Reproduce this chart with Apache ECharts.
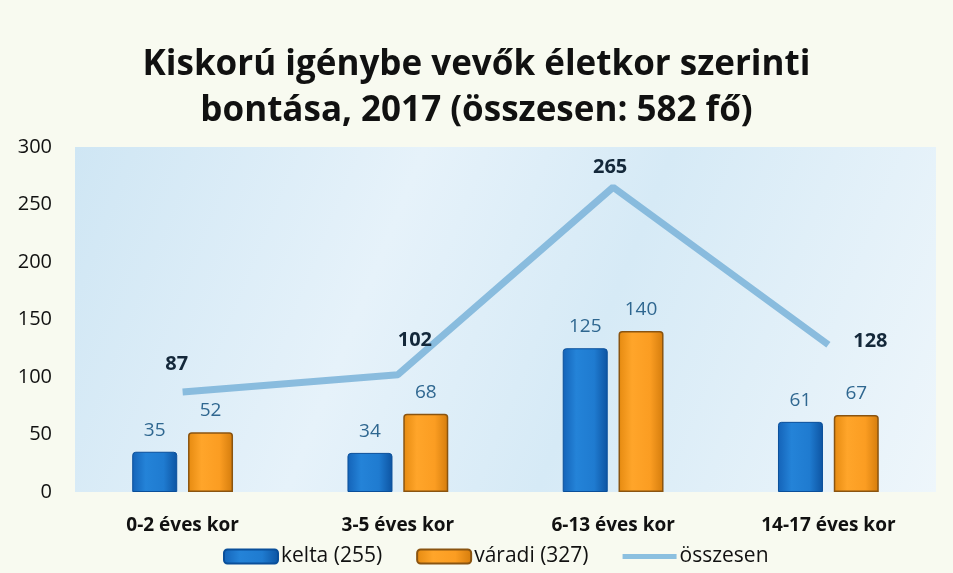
<!DOCTYPE html>
<html><head><meta charset="utf-8">
<script src="https://cdn.jsdelivr.net/npm/echarts@6/dist/echarts.min.js"></script>
<style>html,body{margin:0;padding:0;background:#f8faf0}#c{width:953px;height:573px}</style>
</head><body><div id="c"></div>
<script>
const categories = ['0-2 éves kor', '3-5 éves kor', '6-13 éves kor', '14-17 éves kor'];
const kelta = [35, 34, 125, 61];
const varadi = [52, 68, 140, 67];
const osszesen = [87, 102, 265, 128];
const yTicks = [0, 50, 100, 150, 200, 250, 300];
const seriesNames = ['kelta (255)', 'váradi (327)', 'összesen'];
const titleText = 'Kiskorú igénybe vevők életkor szerinti\nbontása, 2017 (összesen: 582 fő)';
// label offsets for line labels (style only)
const lineLabelOffsets = [[-6, -8], [17, -14], [-3, 0], [42, 17]];

const chart = echarts.init(document.getElementById('c'));
const font = '"Open Sans", "Noto Sans", sans-serif';
chart.setOption({
  backgroundColor: '#f8faf0',
  title: {
    text: titleText, left: 'center', top: 37,
    textStyle: {fontFamily: font, fontSize: 35, fontWeight: 'bold', color: '#111', lineHeight: 46}
  },
  legend: {
    bottom: 1, left: 218, itemWidth: 54, itemHeight: 14, itemGap: 34,
    textStyle: {fontFamily: font, fontSize: 21, color: '#111', padding: [0, 0, 0, -2]},
    data: [
      {name: seriesNames[0]},
      {name: seriesNames[1]},
      {name: seriesNames[2], icon: 'path://M0,5 L54,5 L54,10 L0,10 Z', itemStyle: {color: '#8cc0e0'}}
    ]
  },
  grid: {
    left: 75, right: 17, top: 147, bottom: 81,
    show: true, borderWidth: 0,
    backgroundColor: {
      type: 'linear', x: 0, y: 0, x2: 1, y2: 1,
      colorStops: [
        {offset: 0, color: '#cfe6f4'},
        {offset: 0.35, color: '#e6f2fa'},
        {offset: 0.6, color: '#d6eaf6'},
        {offset: 1, color: '#eef6fb'}
      ]
    }
  },
  xAxis: {
    type: 'category', data: categories,
    axisLine: {show: false}, axisTick: {show: false},
    axisLabel: {fontFamily: font, fontSize: 19, fontWeight: 'bold', color: '#111', margin: 24}
  },
  yAxis: {
    type: 'value', min: yTicks[0], max: yTicks[yTicks.length - 1], interval: 50,
    axisLine: {show: false}, axisTick: {show: false}, splitLine: {show: false},
    axisLabel: {fontFamily: font, fontSize: 20, color: '#111', margin: 23}
  },
  series: [
    {
      name: seriesNames[0], type: 'bar', data: kelta, barWidth: 45, barGap: '24%',
      itemStyle: {
        borderRadius: [3, 3, 0, 0], borderColor: '#0a4f9a', borderWidth: 1,
        color: {type: 'linear', x: 0, y: 0, x2: 1, y2: 0, colorStops: [
          {offset: 0, color: '#1463b8'}, {offset: 0.3, color: '#2483d8'},
          {offset: 0.7, color: '#1f7bd0'}, {offset: 1, color: '#0d54a2'}]}
      },
      label: {show: true, position: 'top', distance: 12, fontFamily: font, fontSize: 19, color: '#2f6790'}
    },
    {
      name: seriesNames[1], type: 'bar', data: varadi, barWidth: 45,
      itemStyle: {
        borderRadius: [3, 3, 0, 0], borderColor: '#8a5410', borderWidth: 1.5,
        color: {type: 'linear', x: 0, y: 0, x2: 1, y2: 0, colorStops: [
          {offset: 0, color: '#e58a10'}, {offset: 0.3, color: '#ffa52a'},
          {offset: 0.7, color: '#fb9d22'}, {offset: 1, color: '#d47c0c'}]}
      },
      label: {show: true, position: 'top', distance: 12, fontFamily: font, fontSize: 19, color: '#2f6790'}
    },
    {
      name: seriesNames[2], type: 'line', z: 1,
      data: osszesen.map((v, i) => ({value: v, label: {offset: lineLabelOffsets[i]}})),
      showSymbol: true, symbol: 'circle', symbolSize: 0.1,
      lineStyle: {color: '#7fb6da', width: 7, opacity: 0.9},
      itemStyle: {color: '#7fb6da'},
      label: {show: true, position: 'top', distance: 10, fontFamily: font, fontSize: 20, fontWeight: 'bold', color: '#14283a'}
    }
  ]
});
</script></body></html>
